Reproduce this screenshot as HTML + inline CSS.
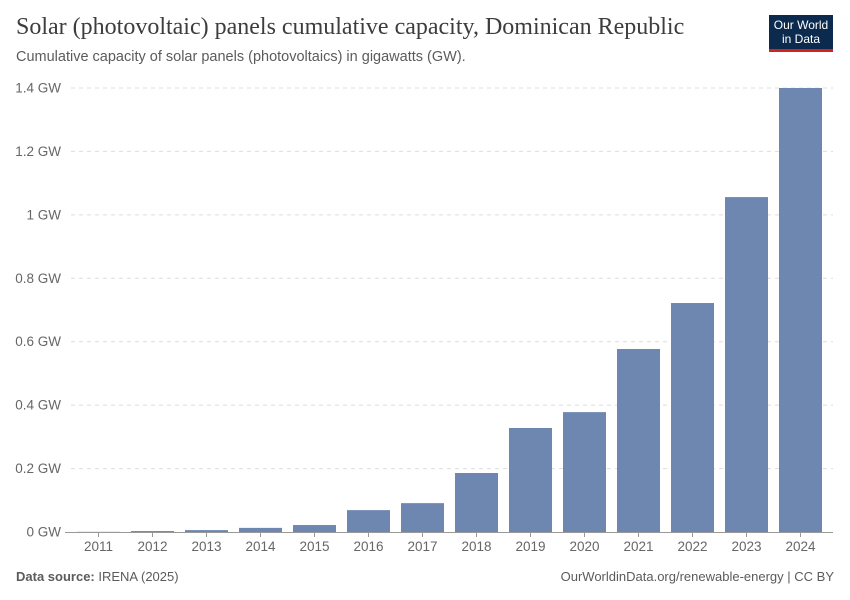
<!DOCTYPE html>
<html><head><meta charset="utf-8"><style>
body{margin:0;background:#fff;font-family:"Liberation Sans",sans-serif;}
#wrap{position:relative;width:850px;height:600px;overflow:hidden;}
.t{position:absolute;white-space:nowrap;}
</style></head><body>
<div id="wrap">
<div class="t" style="left:16px;top:14px;font-family:'Liberation Serif',serif;font-size:24px;color:#3d3d3d;">Solar (photovoltaic) panels cumulative capacity, Dominican Republic</div>
<div class="t" style="left:16px;top:49px;font-size:14.5px;color:#5b5b5b;">Cumulative capacity of solar panels (photovoltaics) in gigawatts (GW).</div>
<div style="position:absolute;left:769px;top:15px;width:64px;height:37px;background:#0c2a4d;border-bottom:3px solid #ce261e;box-sizing:border-box;color:#fff;font-size:12px;line-height:14px;text-align:center;padding-top:3px;">Our World<br>in Data</div>
<svg id="chart" width="850" height="600" style="position:absolute;left:0;top:0"></svg>
<div class="t" style="left:16px;top:569px;font-size:13px;color:#5b5b5b;"><b>Data source:</b> IRENA (2025)</div>
<div class="t" style="right:16px;top:569px;font-size:13px;color:#5b5b5b;">OurWorldinData.org/renewable-energy | CC BY</div>
</div>
<script>
const years=["2011","2012","2013","2014","2015","2016","2017","2018","2019","2020","2021","2022","2023","2024"];
const values=[0.0005,0.003,0.006,0.013,0.022,0.069,0.091,0.186,0.328,0.378,0.577,0.722,1.056,1.4];
const yTicks=[0,0.2,0.4,0.6,0.8,1,1.2,1.4];
const yTickLabels=["0 GW","0.2 GW","0.4 GW","0.6 GW","0.8 GW","1 GW","1.2 GW","1.4 GW"];
const NS="http://www.w3.org/2000/svg";
const svg=document.getElementById('chart');
const x0=71.5,step=54,bw=43,yBase=532,yTop=88,yMax=1.4;
const y=v=>yBase-(v/yMax)*(yBase-yTop);
const xc=i=>x0+step*(i+0.5);
function mk(t,a){const e=document.createElementNS(NS,t);for(const k in a)e.setAttribute(k,a[k]);svg.appendChild(e);return e;}
yTicks.forEach((v,i)=>{
  if(v>0){const l=mk('line',{x1:71,x2:833,y1:y(v),y2:y(v),stroke:'#ddd','stroke-dasharray':'4,4'});
  
  }
  const t=mk('text',{x:61,y:y(v)+4.5,'text-anchor':'end','font-size':'13.5','fill':'#666','font-family':'Liberation Sans,sans-serif'});
  t.textContent=yTickLabels[i];
  
  
});
values.forEach((v,i)=>{
  const r=mk('rect',{x:xc(i)-bw/2,y:y(v),width:bw,height:yBase-y(v),fill:'#6d87b0'});
  
  
  const tk=mk('line',{x1:xc(i),x2:xc(i),y1:yBase,y2:yBase+5,stroke:'#999'});
  
  
  const t=mk('text',{x:xc(i),y:551,'text-anchor':'middle','font-size':'13.5','fill':'#666','font-family':'Liberation Sans,sans-serif'});
  t.textContent=years[i];
  
  
});
const ax=mk('line',{x1:65,x2:833,y1:yBase+0.5,y2:yBase+0.5,stroke:'#999'});


</script>
</body></html>
